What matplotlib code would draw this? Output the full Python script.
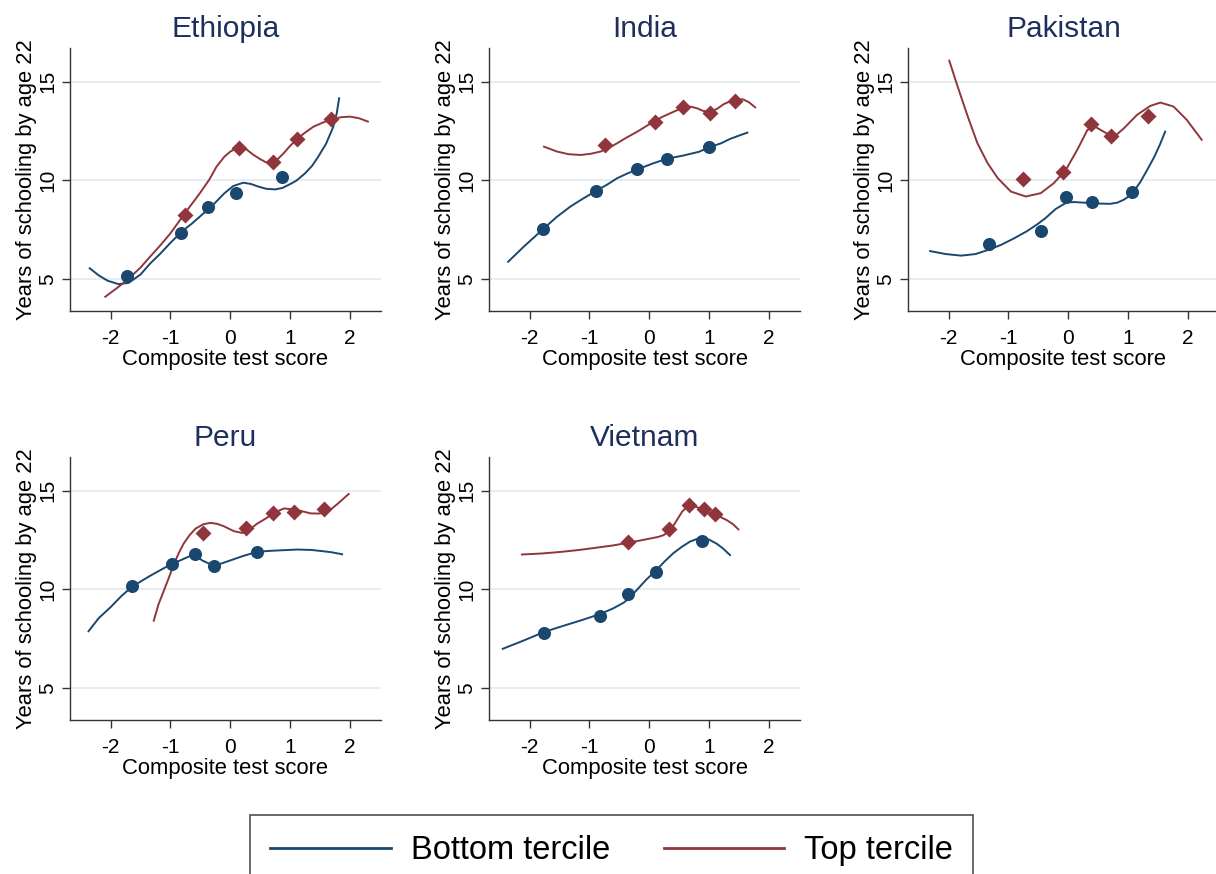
import matplotlib
matplotlib.use("Agg")
from matplotlib import pyplot as plt
from matplotlib.lines import Line2D

plt.rcParams["font.family"] = ["Liberation Sans", "DejaVu Sans"]
plt.rcParams["axes.unicode_minus"] = False

# marker values (x = composite test score, y = years of schooling)
eth_bot_x = [-1.72, -0.83, -0.37, 0.10, 0.87]
eth_bot_y = [5.17, 7.36, 8.68, 9.38, 10.19]
eth_top_x = [-0.76, 0.15, 0.71, 1.11, 1.69]
eth_top_y = [8.25, 11.66, 10.92, 12.08, 13.09]
# fitted curves
eth_bot_cx = [-2.35, -2.2, -2.05, -1.87, -1.7, -1.5, -1.34, -1.17, -1.0, -0.81, -0.65, -0.51, -0.29, -0.1, 0.05,
              0.22, 0.35, 0.47, 0.6, 0.75, 0.87, 0.97, 1.1, 1.25, 1.37, 1.47, 1.6, 1.72, 1.78, 1.82]
eth_bot_cy = [5.56, 5.2, 4.93, 4.76, 4.82, 5.25, 5.8, 6.3, 6.85, 7.42, 7.8, 8.17, 8.76, 9.35, 9.72,
              9.89, 9.82, 9.69, 9.58, 9.55, 9.62, 9.77, 9.98, 10.36, 10.75, 11.2, 11.85, 12.7, 13.4, 14.16]
eth_top_cx = [-2.09, -1.9, -1.71, -1.5, -1.34, -1.17, -1.0, -0.76, -0.51, -0.35, -0.23, -0.1, 0.0, 0.15, 0.28,
              0.39, 0.5, 0.61, 0.72, 0.8, 0.89, 1.0, 1.11, 1.25, 1.39, 1.55, 1.69, 1.85, 2.0, 2.15, 2.3]
eth_top_cy = [4.12, 4.55, 5.0, 5.6, 6.15, 6.72, 7.33, 8.34, 9.35, 10.05, 10.7, 11.2, 11.46, 11.71, 11.55,
              11.29, 11.08, 10.9, 10.9, 11.1, 11.37, 11.75, 12.08, 12.42, 12.72, 12.93, 13.09, 13.2, 13.23, 13.15, 12.98]

ind_bot_x = [-1.78, -0.89, -0.20, 0.29, 1.00]
ind_bot_y = [7.53, 9.47, 10.56, 11.10, 11.68]
ind_top_x = [-0.74, 0.10, 0.57, 1.02, 1.43]
ind_top_y = [11.79, 12.95, 13.73, 13.40, 14.04]
ind_bot_cx = [-2.36, -2.1, -1.78, -1.55, -1.32, -1.1, -0.89, -0.7, -0.54, -0.37, -0.20, 0.05, 0.29, 0.55, 0.83,
              1.0, 1.2, 1.35, 1.5, 1.64]
ind_bot_cy = [5.89, 6.65, 7.53, 8.15, 8.68, 9.1, 9.47, 9.8, 10.11, 10.35, 10.56, 10.85, 11.1, 11.25, 11.45,
              11.68, 11.88, 12.1, 12.27, 12.42]
ind_top_cx = [-1.76, -1.54, -1.35, -1.15, -0.98, -0.82, -0.68, -0.54, -0.38, -0.2, -0.05, 0.1, 0.22, 0.35, 0.47,
              0.58, 0.7, 0.8, 0.9, 1.02, 1.13, 1.25, 1.35, 1.43, 1.5, 1.57, 1.67, 1.77]
ind_top_cy = [11.71, 11.46, 11.33, 11.29, 11.35, 11.46, 11.64, 11.88, 12.17, 12.47, 12.75, 13.03, 13.22, 13.4, 13.56,
              13.7, 13.73, 13.65, 13.52, 13.48, 13.62, 13.87, 14.0, 14.07, 14.11, 14.1, 13.95, 13.7]

pak_bot_x = [-1.32, -0.46, -0.03, 0.40, 1.07]
pak_bot_y = [6.77, 7.46, 9.15, 8.90, 9.40]
pak_top_x = [-0.76, -0.09, 0.38, 0.71, 1.34]
pak_top_y = [10.08, 10.45, 12.86, 12.25, 13.26]
pak_bot_cx = [-2.31, -2.05, -1.79, -1.55, -1.35, -1.12, -0.91, -0.7, -0.52, -0.38, -0.21, -0.1, -0.02, 0.1, 0.2,
              0.4, 0.55, 0.7, 0.82, 0.93, 1.02, 1.09, 1.2, 1.32, 1.43, 1.53, 1.62]
pak_bot_cy = [6.43, 6.28, 6.2, 6.28, 6.48, 6.75, 7.07, 7.42, 7.78, 8.1, 8.56, 8.76, 8.89, 8.91, 8.89,
              8.86, 8.83, 8.82, 8.88, 9.03, 9.22, 9.44, 9.9, 10.54, 11.15, 11.8, 12.47]
pak_top_cx = [-1.99, -1.85, -1.68, -1.52, -1.35, -1.18, -0.96, -0.71, -0.46, -0.24, -0.04, 0.15, 0.32, 0.46, 0.59,
              0.76, 0.93, 1.15, 1.37, 1.54, 1.76, 1.98, 2.23]
pak_top_cy = [16.06, 14.75, 13.23, 11.89, 10.88, 10.12, 9.44, 9.19, 9.36, 9.87, 10.54, 11.55, 12.56, 12.7, 12.47,
              12.19, 12.64, 13.32, 13.77, 13.94, 13.74, 13.07, 12.06]

per_bot_x = [-1.64, -0.98, -0.59, -0.28, 0.45]
per_bot_y = [10.17, 11.29, 11.79, 11.20, 11.88]
per_top_x = [-0.45, 0.27, 0.72, 1.07, 1.56]
per_top_y = [12.84, 13.10, 13.85, 13.93, 14.05]
per_bot_cx = [-2.37, -2.2, -2.0, -1.82, -1.64, -1.33, -1.0, -0.8, -0.61, -0.47, -0.27, 0.0, 0.2, 0.44, 0.64, 0.84,
              1.12, 1.35, 1.51, 1.7, 1.87]
per_bot_cy = [7.89, 8.55, 9.11, 9.67, 10.15, 10.71, 11.26, 11.52, 11.78, 11.47, 11.19, 11.47, 11.68, 11.9, 11.95, 11.98,
              12.02, 12.0, 11.95, 11.88, 11.78]
per_top_cx = [-1.28, -1.2, -1.11, -1.02, -0.94, -0.86, -0.78, -0.68, -0.58, -0.45, -0.33, -0.22, -0.11, 0.06, 0.2,
              0.33, 0.45, 0.6, 0.73, 0.9, 1.12, 1.34, 1.48, 1.56, 1.68, 1.79, 1.98]
per_top_cy = [8.42, 9.25, 9.95, 10.65, 11.3, 11.85, 12.32, 12.75, 13.08, 13.3, 13.37, 13.32, 13.2, 12.95, 12.86,
              13.05, 13.33, 13.6, 13.88, 14.1, 14.02, 13.85, 13.84, 13.88, 14.05, 14.32, 14.83]

vnm_bot_x = [-1.76, -0.83, -0.36, 0.11, 0.88]
vnm_bot_y = [7.82, 8.68, 9.76, 10.90, 12.45]
vnm_top_x = [-0.36, 0.33, 0.67, 0.91, 1.10]
vnm_top_y = [12.38, 13.04, 14.27, 14.05, 13.82]
vnm_bot_cx = [-2.45, -2.1, -1.76, -1.45, -1.14, -0.83, -0.6, -0.43, -0.32, -0.21, -0.05, 0.11, 0.25, 0.4, 0.55,
              0.68, 0.8, 0.9, 1.0, 1.12, 1.23, 1.35]
vnm_bot_cy = [7.0, 7.42, 7.85, 8.15, 8.44, 8.75, 9.05, 9.33, 9.6, 9.97, 10.5, 10.95, 11.4, 11.83, 12.17,
              12.42, 12.56, 12.59, 12.52, 12.33, 12.08, 11.74]
vnm_top_cx = [-2.13, -1.8, -1.48, -1.17, -0.87, -0.6, -0.36, -0.15, 0.02, 0.15, 0.24, 0.33, 0.41, 0.48, 0.55,
              0.61, 0.67, 0.75, 0.83, 0.91, 1.0, 1.1, 1.2, 1.3, 1.4, 1.49]
vnm_top_cy = [11.77, 11.82, 11.9, 12.0, 12.12, 12.23, 12.36, 12.48, 12.58, 12.66, 12.75, 12.95, 13.26, 13.6, 13.94,
              14.12, 14.24, 14.22, 14.12, 14.02, 13.9, 13.77, 13.65, 13.5, 13.3, 13.04]

countries = ["Ethiopia", "India", "Pakistan", "Peru", "Vietnam"]
panels = [
    (eth_bot_x, eth_bot_y, eth_top_x, eth_top_y, eth_bot_cx, eth_bot_cy, eth_top_cx, eth_top_cy),
    (ind_bot_x, ind_bot_y, ind_top_x, ind_top_y, ind_bot_cx, ind_bot_cy, ind_top_cx, ind_top_cy),
    (pak_bot_x, pak_bot_y, pak_top_x, pak_top_y, pak_bot_cx, pak_bot_cy, pak_top_cx, pak_top_cy),
    (per_bot_x, per_bot_y, per_top_x, per_top_y, per_bot_cx, per_bot_cy, per_top_cx, per_top_cy),
    (vnm_bot_x, vnm_bot_y, vnm_top_x, vnm_top_y, vnm_bot_cx, vnm_bot_cy, vnm_top_cx, vnm_top_cy),
]
legend_labels = ["Bottom tercile", "Top tercile"]

navy = "#1a476f"
maroon = "#90353b"
title_col = "#1e2f5c"
axis_col = "#333333"
grid_col = "#e3ecf0"

W, H = 1216, 874
fig = plt.figure(figsize=(W / 100, H / 100), dpi=100)

# axes boxes in pixels: left, top
boxes = [(70, 48), (489, 48), (908, 48), (70, 457), (489, 457)]
aw, ah = 311, 263

for name, box, data in zip(countries, boxes, panels):
    bx, by, tx, ty, bcx, bcy, tcx, tcy = data
    left, top = box
    ax = fig.add_axes([left / W, (H - top - ah) / H, aw / W, ah / H])
    ax.set_xlim(-2.68, 2.52)
    ax.set_ylim(3.4, 16.7)
    ax.set_yticks([5, 10, 15])
    ax.set_xticks([-2, -1, 0, 1, 2])
    ax.grid(axis="y", color=grid_col, lw=1.3)
    ax.set_axisbelow(True)
    for s in ["top", "right"]:
        ax.spines[s].set_visible(False)
    for s in ["left", "bottom"]:
        ax.spines[s].set_color(axis_col)
        ax.spines[s].set_linewidth(1.0)
    ax.tick_params(colors=axis_col, labelcolor="black", length=6, width=1.0, labelsize=15)
    ax.tick_params(axis="x", pad=7)
    ax.tick_params(axis="y", pad=3)
    for lab in ax.get_yticklabels():
        lab.set_rotation(90)
        lab.set_va("center")

    ax.plot(bcx, bcy, color=navy, lw=1.4, zorder=3)
    ax.plot(tcx, tcy, color=maroon, lw=1.4, zorder=3)
    ax.plot(bx, by, "o", color=navy, ms=9.4, mec="none", zorder=4)
    ax.plot(tx, ty, "D", color=maroon, ms=8.2, mec="none", zorder=4)

    ax.set_title(name, fontsize=21.5, color=title_col, pad=8)
    ax.set_xlabel("Composite test score", fontsize=15.8, labelpad=1)
    ax.set_ylabel("Years of schooling by age 22", fontsize=15.8, labelpad=1)

handles = [Line2D([], [], color=navy, lw=2), Line2D([], [], color=maroon, lw=2)]
leg = fig.legend(handles, legend_labels, loc="upper left",
                 bbox_to_anchor=(250 / W, 1 - 815 / H), ncol=2, fontsize=23.5,
                 frameon=True, fancybox=False, edgecolor="#222222",
                 handlelength=3.7, handletextpad=0.6, columnspacing=1.65,
                 borderpad=0.62, borderaxespad=0)
leg.get_frame().set_linewidth(1.2)

fig.savefig("out.png", dpi=100)
